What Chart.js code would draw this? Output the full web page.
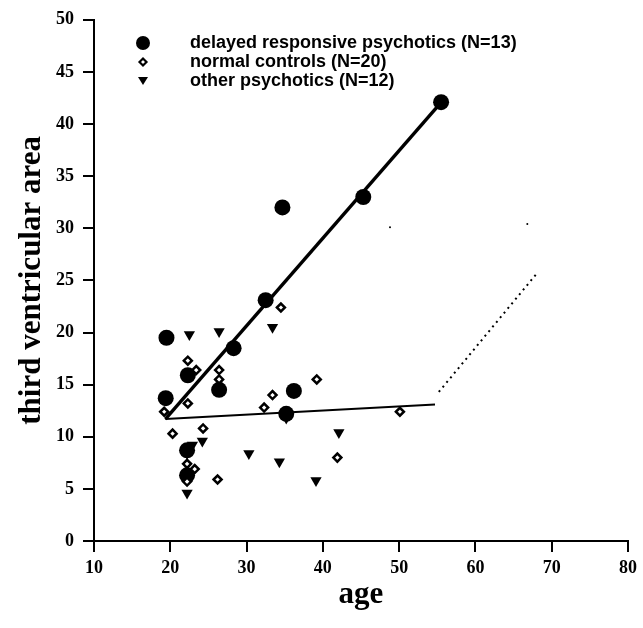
<!DOCTYPE html>
<html><head><meta charset="utf-8">
<script src="https://cdn.jsdelivr.net/npm/chart.js@4/dist/chart.umd.min.js"></script>
<style>html,body{margin:0;padding:0;background:#fff}#wrap{width:643px;height:628px}</style>
</head><body><div id="wrap"><canvas id="c" width="643" height="628"></canvas></div>
<script>
// delayed responsive psychotics (filled circles)
const drpAge  = [55.5, 45.3, 34.7, 32.5, 28.3, 19.5, 22.3, 26.4, 36.2, 19.4, 35.2, 22.2, 22.2];
const drpArea = [42.1, 33.0, 32.0, 23.1, 18.5, 19.5, 15.9, 14.5, 14.4, 13.7, 12.2, 8.7, 6.3];
// normal controls (open diamonds)
const ncAge  = [22.3, 23.4, 26.4, 26.4, 22.3, 19.2, 20.3, 24.3, 32.3, 33.4, 39.2, 22.2, 23.2, 22.2, 26.2, 41.9, 34.5, 50.1];
const ncArea = [17.3, 16.4, 16.4, 15.5, 13.2, 12.4, 10.3, 10.8, 12.8, 14.0, 15.5, 7.4, 6.9, 5.7, 5.9, 8.0, 22.4, 12.4];
// other psychotics (filled down triangles)
const opAge  = [22.5, 26.4, 33.4, 24.2, 30.3, 34.3, 39.1, 22.2, 42.1, 35.2, 22.9, 22.2];
const opArea = [19.8, 20.1, 20.5, 9.6, 8.4, 7.6, 5.8, 4.6, 10.4, 11.8, 9.2, 8.4];
// fitted lines
const fitDrpAge = [19.35, 55.3];
const fitDrpArea = [11.7, 41.9];
const fitNcAge = [19.35, 54.7];
const fitNcArea = [11.7, 13.1];
const fitOpAge = [55.2, 68.2];
const fitOpArea = [14.3, 25.8];
// specks
const speckAge = [48.8, 66.8];
const speckArea = [30.1, 30.4];
const legendLabels = ['delayed responsive psychotics (N=13)', 'normal controls (N=20)', 'other psychotics (N=12)'];
const xMin = 10, xMax = 80, xStep = 10;
const yMin = 0, yMax = 50, yStep = 5;

const pts = (a, b) => a.map((v, i) => ({x: v, y: b[i]}));

const legendPlugin = {
  id: 'inlineLegend',
  afterDraw(chart) {
    const ctx = chart.ctx;
    ctx.save();
    const mx = 143, tx = 190, rows = [43, 62, 81];
    ctx.fillStyle = '#000';
    ctx.beginPath(); ctx.arc(mx, rows[0], 7, 0, Math.PI * 2); ctx.fill();
    ctx.lineWidth = 2.2; ctx.strokeStyle = '#000'; ctx.fillStyle = '#fff';
    const d = 3.5;
    ctx.beginPath(); ctx.moveTo(mx - d, rows[1]); ctx.lineTo(mx, rows[1] - d); ctx.lineTo(mx + d, rows[1]); ctx.lineTo(mx, rows[1] + d); ctx.closePath();
    ctx.fill(); ctx.stroke();
    ctx.fillStyle = '#000';
    ctx.beginPath(); ctx.moveTo(mx - 5, rows[2] - 4); ctx.lineTo(mx + 5, rows[2] - 4); ctx.lineTo(mx, rows[2] + 4); ctx.closePath(); ctx.fill();
    ctx.font = 'bold 18px "Liberation Sans", Arial, sans-serif';
    ctx.textBaseline = 'middle';
    ctx.textAlign = 'left';
    legendLabels.forEach((t, i) => ctx.fillText(t, tx, rows[i]));
    ctx.restore();
  }
};

const tickFont = {family: '"Liberation Serif", "Times New Roman", serif', size: 18, weight: 'bold'};
const titleFont = {family: '"Liberation Serif", "Times New Roman", serif', size: 31, weight: 'bold'};

new Chart(document.getElementById('c'), {
  type: 'scatter',
  data: {
    datasets: [
      {label: 'fit1', data: pts(fitDrpAge, fitDrpArea), showLine: true, borderColor: '#000', borderWidth: 3.4, pointRadius: 0, order: 0},
      {label: 'fit2', data: pts(fitNcAge, fitNcArea), showLine: true, borderColor: '#000', borderWidth: 2, pointRadius: 0, order: 0},
      {label: 'fit3', data: pts(fitOpAge, fitOpArea), showLine: true, borderColor: '#000', borderWidth: 2, borderDash: [2, 4], pointRadius: 0, order: 0},
      {label: 'specks', data: pts(speckAge, speckArea), pointRadius: 1, backgroundColor: '#000', borderWidth: 0, order: 0},
      {label: legendLabels[1], data: pts(ncAge, ncArea), pointStyle: 'rectRot', pointRadius: 4, borderWidth: 2.5, borderColor: '#000', backgroundColor: '#fff', order: 1},
      {label: legendLabels[0], data: pts(drpAge, drpArea), pointStyle: 'circle', pointRadius: 8, borderWidth: 0, backgroundColor: '#000', order: 2},
      {label: legendLabels[2], data: pts(opAge, opArea), pointStyle: 'triangle', rotation: 180, pointRadius: 6.5, borderWidth: 0, backgroundColor: '#000', order: 3}
    ]
  },
  options: {
    responsive: false,
    animation: false,
    devicePixelRatio: 1,
    layout: {padding: {top: 19, right: 11, left: 0, bottom: 0}},
    plugins: {legend: {display: false}, tooltip: {enabled: false}},
    scales: {
      x: {
        type: 'linear', min: xMin, max: xMax,
        ticks: {stepSize: xStep, color: '#000', font: tickFont, padding: 6, maxRotation: 0},
        grid: {drawOnChartArea: false, drawTicks: true, tickLength: 11, color: '#000', lineWidth: 2},
        border: {display: true, color: '#000', width: 2},
        title: {display: true, text: 'age', color: '#000', font: titleFont, padding: {top: 0, bottom: 14}},
        afterFit(s) { s.height = 87; }
      },
      y: {
        type: 'linear', min: yMin, max: yMax,
        ticks: {stepSize: yStep, color: '#000', font: tickFont, padding: 9},
        grid: {drawOnChartArea: false, drawTicks: true, tickLength: 11, color: '#000', lineWidth: 2},
        border: {display: true, color: '#000', width: 2},
        title: {display: true, text: 'third ventricular area', color: '#000', font: titleFont, padding: {top: 13, bottom: 0}},
        afterFit(s) { s.width = 94; }
      }
    }
  },
  plugins: [legendPlugin]
});
</script>
</body></html>
